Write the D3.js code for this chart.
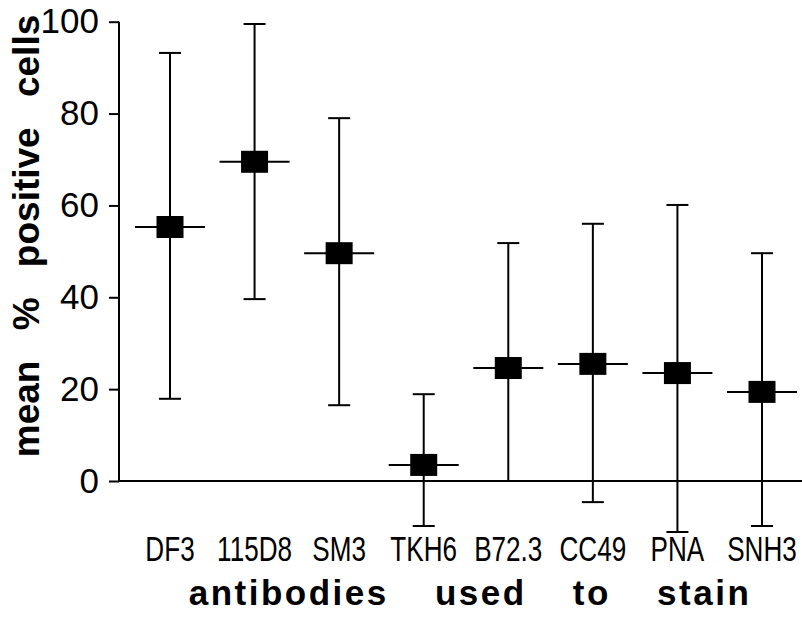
<!DOCTYPE html>
<html><head><meta charset="utf-8">
<script src="https://cdn.jsdelivr.net/npm/d3@7"></script>
<style>body{margin:0;background:#fff}svg{display:block}</style>
</head><body><svg id="c" width="802" height="619"></svg>
<script>
const categories = ["DF3","115D8","SM3","TKH6","B72.3","CC49","PNA","SNH3"];
const means = [55.3, 69.5, 49.6, 3.5, 24.6, 25.5, 23.5, 19.4];
const upper = [93.2, 99.5, 79.0, 18.9, 51.8, 56.0, 60.1, 49.6];
const lower = [17.9, 39.6, 16.5, -9.8, 0, -4.6, -11.1, -9.8];
const yTicks = [0, 20, 40, 60, 80, 100];
const yTitle = "mean % positive cells";
const xTitle = "antibodies used to stain";

const svg = d3.select("#c");
const x = d3.scalePoint().domain(categories).range([170, 762]);
const y = d3.scaleLinear().domain([0, 100]).range([481, 21.7]);
const data = categories.map((c,i)=>({c, m:means[i], hi:upper[i], lo:lower[i]}));

// y axis
const yAxis = d3.axisLeft(y).tickValues(yTicks).tickSize(10).tickPadding(10).tickFormat(d3.format("d"));
const ga = svg.append("g").attr("transform","translate(119,0)").call(yAxis);
ga.select(".domain").attr("d", `M0,${y(100)}V${y(0)}`).attr("stroke","#000").attr("stroke-width",2);
ga.selectAll(".tick line").attr("stroke","#000").attr("stroke-width",2);
ga.selectAll(".tick text").attr("font-family","Liberation Sans, Arial, sans-serif").attr("font-size",35).attr("fill","#000");

// baseline
svg.append("line").attr("x1",119).attr("x2",802).attr("y1",y(0)).attr("y2",y(0)).attr("stroke","#000").attr("stroke-width",2);

// error bars
const g = svg.append("g");
g.selectAll(".v").data(data).join("line")
 .attr("x1",d=>x(d.c)).attr("x2",d=>x(d.c)).attr("y1",d=>y(d.hi)).attr("y2",d=>y(d.lo))
 .attr("stroke","#000").attr("stroke-width",2);
g.selectAll(".cu").data(data).join("line")
 .attr("x1",d=>x(d.c)-11).attr("x2",d=>x(d.c)+11).attr("y1",d=>y(d.hi)).attr("y2",d=>y(d.hi))
 .attr("stroke","#000").attr("stroke-width",2);
g.selectAll(".cl").data(data).join("line")
 .attr("x1",d=>x(d.c)-11).attr("x2",d=>x(d.c)+11).attr("y1",d=>y(d.lo)).attr("y2",d=>y(d.lo))
 .attr("stroke","#000").attr("stroke-width",2);
g.selectAll(".h").data(data).join("line")
 .attr("x1",d=>x(d.c)-35).attr("x2",d=>x(d.c)+35).attr("y1",d=>y(d.m)).attr("y2",d=>y(d.m))
 .attr("stroke","#000").attr("stroke-width",2);
g.selectAll("rect").data(data).join("rect")
 .attr("x",d=>x(d.c)-13.5).attr("y",d=>y(d.m)-11).attr("width",27).attr("height",22).attr("fill","#000");

// x labels (condensed, tall)
svg.append("g").selectAll("text").data(categories).join("text")
 .attr("transform",d=>`translate(${x(d)},561) scale(0.87,1.2)`).attr("text-anchor","middle")
 .attr("font-family","Liberation Sans, Arial, sans-serif").attr("font-size",30).attr("fill","#000")
 .text(d=>d);

// titles
svg.append("text").attr("x",470).attr("y",605).attr("text-anchor","middle")
 .attr("font-family","Liberation Sans, Arial, sans-serif").attr("font-weight","bold").attr("font-size",35)
 .attr("letter-spacing",2.5).attr("word-spacing",34).attr("fill","#000").text(xTitle);
svg.append("text").attr("transform","translate(39,236) rotate(-90)").attr("text-anchor","middle")
 .attr("font-family","Liberation Sans, Arial, sans-serif").attr("font-weight","bold").attr("font-size",37)
 .attr("word-spacing",20).attr("fill","#000").text(yTitle);
</script></body></html>
